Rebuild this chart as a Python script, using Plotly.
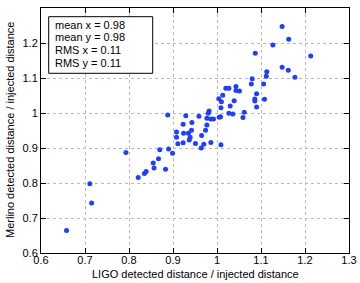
import plotly.graph_objects as go

ligo_x = [0.658, 0.711, 0.715, 0.793, 0.821, 0.835, 0.839, 0.855, 0.857, 0.867,
          0.870, 0.883, 0.890, 0.899, 0.911, 0.888, 0.929, 0.959, 0.982, 0.980,
          0.977, 0.986, 0.992, 1.005, 1.008, 1.010, 1.009, 1.027, 1.030, 0.923,
          0.943, 0.977, 0.974, 0.942, 0.908, 0.924, 0.935, 0.908, 0.939, 0.937,
          0.965, 0.923, 0.951, 0.964, 0.970, 0.986, 1.009, 1.148, 1.163, 1.127,
          1.213, 1.087, 1.148, 1.162, 1.177, 1.113, 1.112, 1.080, 1.078, 1.106,
          1.090, 1.086, 1.086, 1.108, 1.090, 1.020, 1.027, 1.043, 1.043, 1.051,
          1.013, 1.004, 1.039, 1.062, 1.036, 1.059]
merlino_y = [0.664, 0.798, 0.743, 0.887, 0.816, 0.827, 0.833, 0.857, 0.843, 0.869,
             0.895, 0.839, 0.897, 0.885, 0.912, 0.994, 0.992, 0.991, 1.006, 0.999,
             0.985, 0.983, 0.983, 0.988, 0.989, 1.032, 1.015, 0.999, 1.020, 0.968,
             0.973, 0.966, 0.951, 0.951, 0.946, 0.942, 0.942, 0.931, 0.931, 0.923,
             0.936, 0.915, 0.913, 0.900, 0.911, 0.916, 0.909, 1.247, 1.211, 1.194,
             1.163, 1.171, 1.131, 1.122, 1.102, 1.118, 1.105, 1.098, 1.083, 1.083,
             1.055, 1.040, 1.034, 1.039, 1.017, 1.071, 1.071, 1.076, 1.064, 1.063,
             1.051, 1.041, 1.035, 1.002, 0.997, 0.987]

x_ticks = [0.6, 0.7, 0.8, 0.9, 1.0, 1.1, 1.2, 1.3]
x_tick_labels = ["0.6", "0.7", "0.8", "0.9", "1", "1.1", "1.2", "1.3"]
y_ticks = [0.6, 0.7, 0.8, 0.9, 1.0, 1.1, 1.2]
y_tick_labels = ["0.6", "0.7", "0.8", "0.9", "1", "1.1", "1.2"]
stats_lines = ["mean x = 0.98", "mean y = 0.98", "RMS x = 0.11", "RMS y = 0.11"]

FONT = "Liberation Sans, Arial, Helvetica, sans-serif"
W, H = 360, 283
L, R, T, B = 41, 11, 8, 30
pw, ph = W - L - R, H - T - B

def px2x(p):
    return (p - L) / pw

def py2y(p):
    return (H - B - p) / ph

fig = go.Figure()
fig.add_trace(go.Scatter(
    x=ligo_x, y=merlino_y, mode="markers",
    marker=dict(color="#1f3fff", size=5, line=dict(width=0)),
    showlegend=False, hoverinfo="skip",
))

axis_common = dict(
    showline=True, linecolor="black", linewidth=1, mirror="ticks",
    ticks="inside", ticklen=5, tickcolor="black", tickwidth=1,
    showgrid=True, gridcolor="#b8b8b8", griddash="dot", gridwidth=1,
    zeroline=False, tickfont=dict(family=FONT, size=11, color="black"),
)
fig.update_xaxes(range=[0.6, 1.3], tickvals=x_ticks, ticktext=x_tick_labels,
                 ticklabelstandoff=-3, **axis_common)
fig.update_yaxes(range=[0.6, 1.3], tickvals=y_ticks, ticktext=y_tick_labels, **axis_common)

# statistics box
fig.add_shape(type="rect", xref="paper", yref="paper",
              x0=px2x(48.7), x1=px2x(152.7), y0=py2y(73.3), y1=py2y(16.7),
              line=dict(color="black", width=1), fillcolor="white", layer="above")
for i, line in enumerate(stats_lines):
    fig.add_annotation(xref="paper", yref="paper", x=px2x(52.5), y=py2y(24.5 + 12.8 * i),
                       text=line, showarrow=False, xanchor="left", yanchor="middle",
                       font=dict(family=FONT, size=11, color="black"))

fig.add_annotation(xref="paper", yref="paper", x=0.5, y=py2y(274),
                   text="LIGO detected distance / injected distance", showarrow=False,
                   xanchor="center", yanchor="middle",
                   font=dict(family=FONT, size=11, color="black"))
fig.add_annotation(xref="paper", yref="paper", x=px2x(9.5), y=0.5,
                   text="Merlino detected distance / injected distance", showarrow=False,
                   textangle=-90, xanchor="center", yanchor="middle",
                   font=dict(family=FONT, size=11, color="black"))

fig.update_layout(
    width=W, height=H, margin=dict(l=L, r=R, t=T, b=B, autoexpand=False),
    paper_bgcolor="white", plot_bgcolor="white",
    font=dict(family=FONT, size=11, color="black"),
)
fig.write_html(
    "out.html",
    config={"displayModeBar": False, "staticPlot": True},
    post_script="document.body.style.margin='0';document.body.style.overflow='hidden';",
)
